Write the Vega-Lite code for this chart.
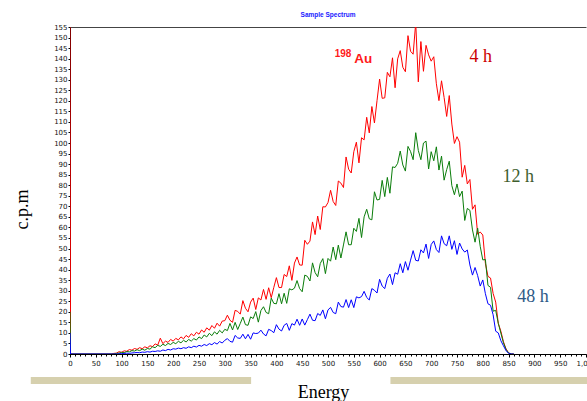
{
  "$schema": "https://vega.github.io/schema/vega-lite/v6.json",
  "width": 516,
  "height": 327,
  "autosize": "none",
  "padding": {"left": 70, "top": 27, "right": 1, "bottom": 47},
  "background": "white",
  "config": {"view": {"stroke": null}},
  "title": {"text": "Sample Spectrum", "font": "Liberation Sans", "fontSize": 6.5, "fontWeight": "bold", "color": "#1a1aff", "offset": 5, "anchor": "middle"},
  "datasets": {
    "spec": [
      {"e":0,"r":160,"g":20,"b":10},{"e":1,"r":0,"g":0,"b":0},{"e":80,"r":0,"g":0,"b":0},
      {"e":85,"r":0.3,"g":0,"b":0},{"e":90,"r":0.4,"g":0.3,"b":0},{"e":95,"r":1.1,"g":0.4,"b":0.1},
      {"e":100,"r":0.8,"g":0.8,"b":0.2},{"e":105,"r":1.5,"g":0.6,"b":0.2},{"e":110,"r":1.3,"g":1.2,"b":0.4},
      {"e":115,"r":2.1,"g":1.0,"b":0.3},{"e":120,"r":1.8,"g":1.6,"b":0.5},{"e":125,"r":2.6,"g":1.4,"b":0.6},
      {"e":130,"r":2.2,"g":2.0,"b":0.7},{"e":135,"r":3.0,"g":1.6,"b":0.6},{"e":140,"r":2.5,"g":2.3,"b":0.9},
      {"e":145,"r":3.4,"g":1.8,"b":0.8},{"e":150,"r":2.9,"g":2.6,"b":1.1},{"e":155,"r":3.9,"g":2.3,"b":0.9},
      {"e":160,"r":3.5,"g":3.4,"b":1.3},{"e":165,"r":4.8,"g":3.0,"b":1.2},{"e":170,"r":4.2,"g":4.1,"b":1.5},
      {"e":175,"r":7.5,"g":3.6,"b":1.3},{"e":180,"r":4.9,"g":4.6,"b":1.9},{"e":185,"r":6.1,"g":4.0,"b":1.6},
      {"e":190,"r":5.5,"g":5.0,"b":2.2},{"e":195,"r":6.9,"g":4.5,"b":1.9},{"e":200,"r":6.1,"g":5.5,"b":2.5},
      {"e":205,"r":7.4,"g":4.9,"b":2.3},{"e":210,"r":6.7,"g":6.0,"b":2.8},{"e":215,"r":8.1,"g":5.3,"b":2.5},
      {"e":220,"r":7.2,"g":6.5,"b":3.0},{"e":225,"r":8.8,"g":5.7,"b":2.7},{"e":230,"r":7.9,"g":6.9,"b":3.4},
      {"e":235,"r":9.6,"g":6.1,"b":3.0},{"e":240,"r":8.6,"g":7.3,"b":3.7},{"e":245,"r":10.3,"g":6.6,"b":3.3},
      {"e":250,"r":9.4,"g":8.1,"b":4.1},{"e":255,"r":11.4,"g":7.3,"b":3.7},{"e":260,"r":10.3,"g":9.0,"b":4.5},
      {"e":265,"r":12.4,"g":8.1,"b":4.0},{"e":270,"r":11.3,"g":9.8,"b":4.9},{"e":275,"r":13.5,"g":8.7,"b":4.4},
      {"e":280,"r":12.2,"g":10.5,"b":5.4},{"e":285,"r":14.6,"g":9.4,"b":4.7},{"e":290,"r":13.2,"g":11.2,"b":5.9},
      {"e":295,"r":15.6,"g":10.0,"b":5.2},
      {"e":300,"r":15.8,"g":11.7,"b":6.5},{"e":305,"r":18.4,"g":11.1,"b":7.3},{"e":310,"r":16.0,"g":14.5,"b":6.0},
      {"e":315,"r":15.0,"g":11.4,"b":5.6},{"e":320,"r":20.7,"g":15.0,"b":8.8},{"e":325,"r":20.2,"g":11.6,"b":7.6},
      {"e":330,"r":18.9,"g":14.5,"b":7.4},{"e":335,"r":25.3,"g":17.5,"b":9.4},{"e":340,"r":21.7,"g":13.9,"b":7.2},
      {"e":345,"r":20.0,"g":13.6,"b":9.3},{"e":350,"r":24.6,"g":17.6,"b":7.0},{"e":355,"r":26.5,"g":16.8,"b":10.0},
      {"e":360,"r":21.1,"g":20.1,"b":9.7},{"e":365,"r":26.6,"g":15.1,"b":9.9},{"e":370,"r":25.6,"g":20.6,"b":11.3},
      {"e":375,"r":30.6,"g":22.4,"b":9.5},{"e":380,"r":25.9,"g":19.7,"b":8.6},{"e":385,"r":31.4,"g":19.1,"b":11.7},
      {"e":390,"r":26.7,"g":26.5,"b":11.1},{"e":395,"r":31.6,"g":24.0,"b":10.1},{"e":400,"r":36.2,"g":23.8,"b":13.9},
      {"e":405,"r":31.5,"g":28.6,"b":11.8},{"e":410,"r":31.5,"g":23.8,"b":10.9},{"e":415,"r":37.7,"g":28.8,"b":13.6},
      {"e":420,"r":36.7,"g":24.0,"b":14.5},{"e":425,"r":41.8,"g":30.9,"b":11.2},{"e":430,"r":34.9,"g":30.4,"b":14.4},
      {"e":435,"r":43.1,"g":31.2,"b":13.7},{"e":440,"r":46.0,"g":34.8,"b":16.5},{"e":445,"r":42.2,"g":31.0,"b":13.6},
      {"e":450,"r":42.1,"g":29.5,"b":16.6},{"e":455,"r":53.9,"g":37.4,"b":13.7},{"e":460,"r":52.0,"g":36.8,"b":16.3},
      {"e":465,"r":53.5,"g":34.6,"b":18.9},{"e":470,"r":62.6,"g":43.2,"b":16.0},{"e":475,"r":56.6,"g":38.6,"b":15.8},
      {"e":480,"r":65.4,"g":36.6,"b":19.2},{"e":485,"r":59.0,"g":42.9,"b":18.3},{"e":490,"r":69.8,"g":45.2,"b":20.9},
      {"e":495,"r":69.7,"g":38.1,"b":16.7},{"e":500,"r":71.8,"g":45.3,"b":20.9},{"e":505,"r":77.6,"g":44.0,"b":22.1},
      {"e":510,"r":72.3,"g":50.7,"b":19.7},{"e":515,"r":70.4,"g":44.7,"b":19.1},{"e":520,"r":82.0,"g":51.6,"b":24.6},
      {"e":525,"r":81.0,"g":45.5,"b":22.5},{"e":530,"r":78.9,"g":51.7,"b":22.2},{"e":535,"r":93.4,"g":57.9,"b":25.8},
      {"e":540,"r":87.6,"g":51.8,"b":22.0},{"e":545,"r":85.8,"g":51.8,"b":25.7},{"e":550,"r":95.9,"g":59.6,"b":22.0},
      {"e":555,"r":100.4,"g":58.1,"b":27.1},{"e":560,"r":90.6,"g":64.3,"b":26.6},{"e":565,"r":102.5,"g":55.2,"b":27.2},
      {"e":570,"r":101.5,"g":65.0,"b":29.7},{"e":575,"r":112.2,"g":68.6,"b":26.8},{"e":580,"r":104.8,"g":64.1,"b":25.6},
      {"e":585,"r":117.3,"g":63.6,"b":31.0},{"e":590,"r":109.5,"g":76.9,"b":30.2},{"e":595,"r":120.1,"g":73.0,"b":28.9},
      {"e":600,"r":130.3,"g":73.3,"b":35.4},{"e":605,"r":121.2,"g":82.3,"b":32.2},{"e":610,"r":121.4,"g":74.6,"b":31.0},
      {"e":615,"r":133.5,"g":83.7,"b":35.9},{"e":620,"r":131.4,"g":76.2,"b":37.9},{"e":625,"r":140.4,"g":88.7,"b":32.9},
      {"e":630,"r":126.2,"g":88.4,"b":38.5},{"e":635,"r":139.9,"g":90.4,"b":37.8},{"e":640,"r":143.8,"g":96.2,"b":42.8},
      {"e":645,"r":135.9,"g":89.6,"b":38.5},{"e":650,"r":133.8,"g":86.7,"b":43.8},{"e":655,"r":150.9,"g":98.4,"b":39.7},
      {"e":660,"r":143.5,"g":96.0,"b":44.5},{"e":665,"r":142.1,"g":92.1,"b":49.0},{"e":670,"r":157.0,"g":104.9,"b":44.4},
      {"e":675,"r":129.0,"g":96.5,"b":44.1},{"e":680,"r":148.1,"g":92.1,"b":49.4},{"e":685,"r":134.0,"g":100.0,"b":47.9},
      {"e":690,"r":146.3,"g":100.9,"b":52.1},{"e":695,"r":141.8,"g":87.7,"b":45.3},{"e":700,"r":138.8,"g":95.9,"b":51.9},
      {"e":705,"r":140.9,"g":91.6,"b":53.6},{"e":710,"r":128.1,"g":98.2,"b":49.5},{"e":715,"r":120.1,"g":87.2,"b":48.1},
      {"e":720,"r":129.5,"g":93.8,"b":56.0},{"e":725,"r":121.6,"g":82.4,"b":52.3},{"e":730,"r":112.6,"g":87.4,"b":51.3},
      {"e":735,"r":122.5,"g":91.4,"b":56.0},{"e":740,"r":109.0,"g":79.8,"b":49.6},{"e":745,"r":99.8,"g":75.5,"b":53.7},
      {"e":750,"r":103.0,"g":80.6,"b":47.2},{"e":755,"r":100.4,"g":74.6,"b":52.6},{"e":760,"r":83.8,"g":77.2,"b":49.8},
      {"e":765,"r":89.4,"g":63.3,"b":48.3},{"e":770,"r":80.6,"g":69.0,"b":49.3},{"e":775,"r":82.7,"g":68.1,"b":42.2},
      {"e":780,"r":68.6,"g":58.8,"b":37.4},{"e":785,"r":70.7,"g":53.0,"b":41.0},{"e":790,"r":56.8,"g":59.7,"b":37.2},
      {"e":795,"r":57.8,"g":51.0,"b":32.2},{"e":800,"r":56.4,"g":44.6,"b":35.1},{"e":805,"r":43.0,"g":44.8,"b":28.6},
      {"e":810,"r":36.8,"g":32.5,"b":23.8},{"e":815,"r":36.0,"g":31.6,"b":23.1},{"e":820,"r":28.7,"g":20.3,"b":18.6},
      {"e":825,"r":24.6,"g":20.7,"b":10.8},{"e":830,"r":14.5,"g":14.6,"b":10.0},{"e":835,"r":10.8,"g":9.9,"b":6.3},
      {"e":840,"r":5.8,"g":5.3,"b":3.9},{"e":845,"r":2.4,"g":2.2,"b":1.6},{"e":850,"r":0.5,"g":0.5,"b":0.3},
      {"e":855,"r":0,"g":0,"b":0},{"e":860,"r":0,"g":0,"b":0}
    ],
    "notes": [
      {"e":513,"v":141,"label":"198"},
      {"e":551,"v":138.1,"label":"Au"},
      {"e":774,"v":138.6,"label":"4 h"},
      {"e":838,"v":81.7,"label":"12 h"},
      {"e":867,"v":24.7,"label":"48 h"}
    ],
    "bands": [
      {"x0":-76,"x1":351,"y0":-10.9,"y1":-14.2},
      {"x0":621,"x1":1030,"y0":-10.9,"y1":-14.2}
    ]
  },
  "resolve": {"scale": {"x": "shared", "y": "shared"}, "axis": {"x": "independent", "y": "independent"}},
  "layer": [
    {
      "data": {"name": "spec"},
      "transform": [{"fold": ["r", "g", "b"], "as": ["s", "v"]}],
      "mark": {"type": "line", "strokeWidth": 1, "clip": true, "interpolate": "linear"},
      "encoding": {
        "x": {"field": "e", "type": "quantitative", "scale": {"domain": [0, 1000], "nice": false, "zero": false},
          "axis": {"orient": "bottom", "values": [0,50,100,150,200,250,300,350,400,450,500,550,600,650,700,750,800,850,900,950,1000],
            "grid": false, "domainColor": "#000", "domainWidth": 1.2, "tickColor": "#000", "tickSize": 3,
            "labelFont": "DejaVu Sans", "labelFontSize": 7, "labelColor": "#111", "labelPadding": 2, "labelOverlap": false, "labelFlush": false,
            "title": "Energy", "titleFont": "Liberation Serif", "titleFontSize": 18, "titleFontWeight": "normal", "titleColor": "#000",
            "titleX": 253, "titleY": 43, "titleBaseline": "alphabetic", "titleAlign": "center"}},
        "y": {"field": "v", "type": "quantitative", "scale": {"domain": [0, 155], "nice": false},
          "axis": {"orient": "left", "values": [0,5,10,15,20,25,30,35,40,45,50,55,60,65,70,75,80,85,90,95,100,105,110,115,120,125,130,135,140,145,150,155],
            "grid": false, "domainColor": "#000", "tickColor": "#000", "tickSize": 2,
            "labelFont": "DejaVu Sans", "labelFontSize": 7, "labelColor": "#111", "labelPadding": 1, "labelOverlap": false, "labelFlush": false,
            "title": "c.p.m", "titleFont": "Liberation Serif", "titleFontSize": 18, "titleFontWeight": "normal", "titleColor": "#000",
            "titleAngle": -90, "titleX": -43, "titleY": 182, "titleBaseline": "alphabetic", "titleAlign": "center"}},
        "color": {"field": "s", "type": "nominal", "scale": {"domain": ["r", "g", "b"], "range": ["#ff0000", "#0a7d0a", "#0000ff"]}, "legend": null},
        "order": {"field": "e", "type": "quantitative"}
      }
    },
    {
      "data": {"name": "bands"},
      "mark": {"type": "rect", "clip": false, "color": "#d6d0ae"},
      "encoding": {
        "x": {"field": "x0", "type": "quantitative",
          "axis": {"orient": "bottom", "values": [0,10,20,30,40,50,60,70,80,90,100,110,120,130,140,150,160,170,180,190,200,210,220,230,240,250,260,270,280,290,300,310,320,330,340,350,360,370,380,390,400,410,420,430,440,450,460,470,480,490,500,510,520,530,540,550,560,570,580,590,600,610,620,630,640,650,660,670,680,690,700,710,720,730,740,750,760,770,780,790,800,810,820,830,840,850,860,870,880,890,900,910,920,930,940,950,960,970,980,990,1000],
            "labels": false, "domain": false, "grid": false, "tickSize": 2, "tickColor": "#000", "title": null}},
        "x2": {"field": "x1"},
        "y": {"field": "y0", "type": "quantitative", "axis": null},
        "y2": {"field": "y1"}
      }
    },
    {
      "data": {"name": "notes"},
      "transform": [{"filter": "datum.label == '198'"}],
      "mark": {"type": "text", "font": "Liberation Sans", "fontWeight": "bold", "fontSize": 10, "color": "#ff1a1a", "align": "left", "baseline": "alphabetic"},
      "encoding": {
        "x": {"field": "e", "type": "quantitative", "axis": {"orient": "top", "labels": false, "ticks": false, "grid": false, "domain": true, "domainColor": "#444", "domainWidth": 1.2, "title": null}},
        "y": {"field": "v", "type": "quantitative", "axis": null},
        "text": {"field": "label"}
      }
    },
    {
      "data": {"name": "notes"},
      "transform": [{"filter": "datum.label == 'Au'"}],
      "mark": {"type": "text", "font": "Liberation Sans", "fontWeight": "bold", "fontSize": 13.5, "color": "#ff1a1a", "align": "left", "baseline": "alphabetic"},
      "encoding": {
        "x": {"field": "e", "type": "quantitative", "axis": null},
        "y": {"field": "v", "type": "quantitative", "axis": null},
        "text": {"field": "label"}
      }
    },
    {
      "data": {"name": "notes"},
      "transform": [{"filter": "datum.label == '4 h'"}],
      "mark": {"type": "text", "font": "Liberation Serif", "fontSize": 18, "color": "#cc0000", "align": "left", "baseline": "alphabetic"},
      "encoding": {
        "x": {"field": "e", "type": "quantitative", "axis": null},
        "y": {"field": "v", "type": "quantitative", "axis": null},
        "text": {"field": "label"}
      }
    },
    {
      "data": {"name": "notes"},
      "transform": [{"filter": "datum.label == '12 h'"}],
      "mark": {"type": "text", "font": "Liberation Serif", "fontSize": 18, "color": "#3e5e2e", "align": "left", "baseline": "alphabetic"},
      "encoding": {
        "x": {"field": "e", "type": "quantitative", "axis": null},
        "y": {"field": "v", "type": "quantitative", "axis": null},
        "text": {"field": "label"}
      }
    },
    {
      "data": {"name": "notes"},
      "transform": [{"filter": "datum.label == '48 h'"}],
      "mark": {"type": "text", "font": "Liberation Serif", "fontSize": 18, "color": "#2e5a87", "align": "left", "baseline": "alphabetic"},
      "encoding": {
        "x": {"field": "e", "type": "quantitative", "axis": null},
        "y": {"field": "v", "type": "quantitative", "axis": null},
        "text": {"field": "label"}
      }
    }
  ]
}
